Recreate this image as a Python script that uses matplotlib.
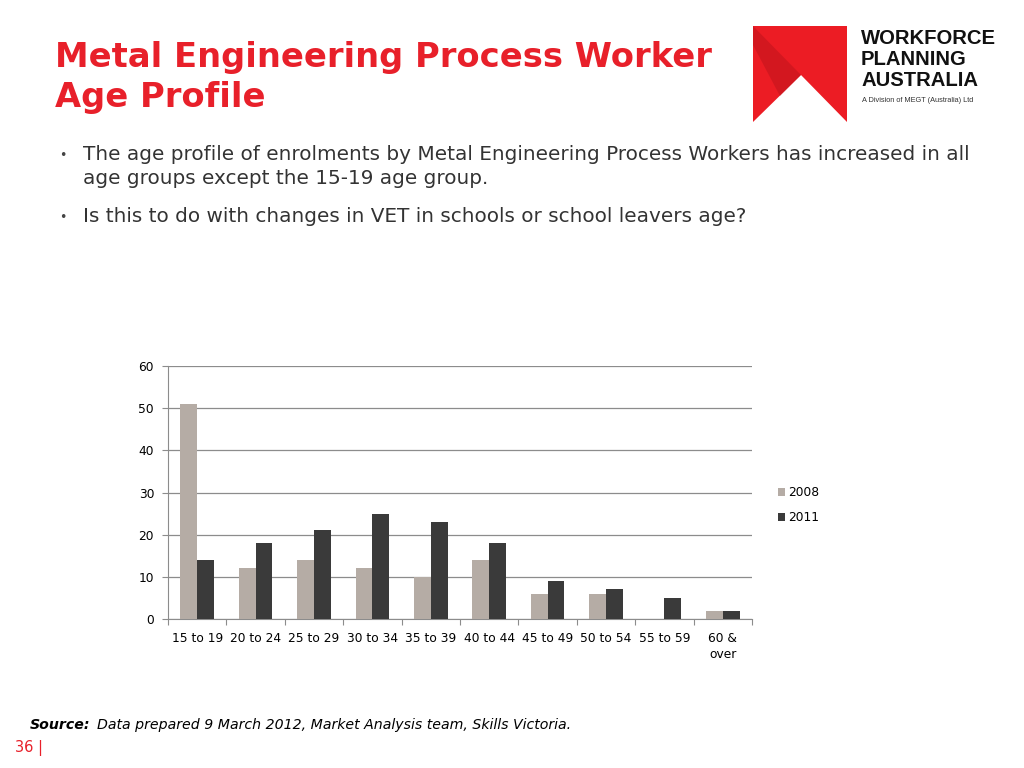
import matplotlib
matplotlib.use("Agg")
import matplotlib.pyplot as plt
import numpy as np
from matplotlib.patches import Polygon

categories = ["15 to 19", "20 to 24", "25 to 29", "30 to 34", "35 to 39",
              "40 to 44", "45 to 49", "50 to 54", "55 to 59", "60 &\nover"]
series_2008 = [51, 12, 14, 12, 10, 14, 6, 6, 0, 2]
series_2011 = [14, 18, 21, 25, 23, 18, 9, 7, 5, 2]
y_ticks = [0, 10, 20, 30, 40, 50, 60]

W, H = 1024, 768
fig = plt.figure(figsize=(W / 100, H / 100), dpi=100)
fig.patch.set_facecolor("white")

def fx(px):
    return px / W

def fy(py):
    return 1 - py / H

# Title
fig.text(fx(55), fy(57), "Metal Engineering Process Worker", color="#e8202a",
         fontsize=24.3, fontweight="bold", family="DejaVu Sans", va="center", ha="left")
fig.text(fx(55), fy(98), "Age Profile", color="#e8202a",
         fontsize=24.3, fontweight="bold", family="DejaVu Sans", va="center", ha="left")

# Bullets
bullet_color = "#444444"
text_color = "#333333"
fig.text(fx(59), fy(156), "•", color=bullet_color, fontsize=9, va="center", ha="left")
fig.text(fx(83), fy(154), "The age profile of enrolments by Metal Engineering Process Workers has increased in all",
         color=text_color, fontsize=14.4, va="center", ha="left", family="DejaVu Sans")
fig.text(fx(83), fy(178), "age groups except the 15-19 age group.",
         color=text_color, fontsize=14.4, va="center", ha="left", family="DejaVu Sans")
fig.text(fx(59), fy(218), "•", color=bullet_color, fontsize=9, va="center", ha="left")
fig.text(fx(83), fy(216), "Is this to do with changes in VET in schools or school leavers age?",
         color=text_color, fontsize=14.4, va="center", ha="left", family="DejaVu Sans")

# Source + page number
fig.text(fx(30), fy(725), "Source:", color="#000000", fontsize=10.2, fontweight="bold",
         style="italic", va="center", ha="left", family="DejaVu Sans")
fig.text(fx(97), fy(725), "Data prepared 9 March 2012, Market Analysis team, Skills Victoria.",
         color="#000000", fontsize=10.2, style="italic", va="center", ha="left", family="DejaVu Sans")
fig.text(fx(15), fy(748), "36 |", color="#e8202a", fontsize=10.5, va="center", ha="left",
         family="DejaVu Sans")

# Logo
logo_ax = fig.add_axes([0, 0, 1, 1], zorder=5)
logo_ax.set_xlim(0, W)
logo_ax.set_ylim(H, 0)
logo_ax.axis("off")
logo_ax.add_patch(Polygon([(753, 26), (847, 26), (847, 122), (801, 75), (753, 122)],
                          closed=True, facecolor="#ec1c24", edgecolor="none"))
logo_ax.add_patch(Polygon([(753, 26), (801, 75), (780, 96), (753, 45)],
                          closed=True, facecolor="#b5121b", edgecolor="none", alpha=0.45))
for i, word in enumerate(["WORKFORCE", "PLANNING", "AUSTRALIA"]):
    logo_ax.text(861, 38 + i * 21.5, word, fontsize=14.6, fontweight="bold",
                 family="Liberation Sans", color="#111111", va="center", ha="left")
logo_ax.text(862, 100, "A Division of MEGT (Australia) Ltd", fontsize=5.3,
             family="Liberation Sans", color="#333333", va="center", ha="left")

# Chart
ax = fig.add_axes([fx(168), fy(619), fx(752) - fx(168), fy(366) - fy(619)])
x = np.arange(len(categories))
bw = 0.286
ax.bar(x - bw / 2, series_2008, width=bw, color="#b5aca5", label="2008", zorder=3)
ax.bar(x + bw / 2, series_2011, width=bw, color="#3a3a3a", label="2011", zorder=3)
ax.set_xlim(-0.5, len(categories) - 0.5)
ax.set_ylim(0, 60)
ax.set_yticks(y_ticks)
ax.set_yticklabels([str(v) for v in y_ticks], fontsize=8.8, color="#000000")
ax.yaxis.grid(True, color="#8c8c8c", linewidth=0.9, zorder=0)
ax.set_axisbelow(True)
ax.tick_params(axis="y", length=4, color="#8c8c8c", pad=6)
ax.set_xticks(np.arange(-0.5, len(categories), 1.0))
ax.set_xticklabels([])
ax.set_xticks(x, minor=True)
ax.set_xticklabels(categories, minor=True, fontsize=8.8, va="top", linespacing=1.3)
ax.tick_params(axis="x", which="major", length=4, color="#8c8c8c", direction="out")
ax.tick_params(axis="x", which="minor", length=0, pad=9)
for s in ["top", "right"]:
    ax.spines[s].set_visible(False)
ax.spines["left"].set_color("#8c8c8c")
ax.spines["bottom"].set_color("#8c8c8c")

leg = ax.legend(loc="center left", bbox_to_anchor=(1.025, 0.45), frameon=False,
                fontsize=8.8, handlelength=0.6, handleheight=0.6, handletextpad=0.3,
                labelspacing=1.0)

fig.savefig("out.png", dpi=100, facecolor="white")
